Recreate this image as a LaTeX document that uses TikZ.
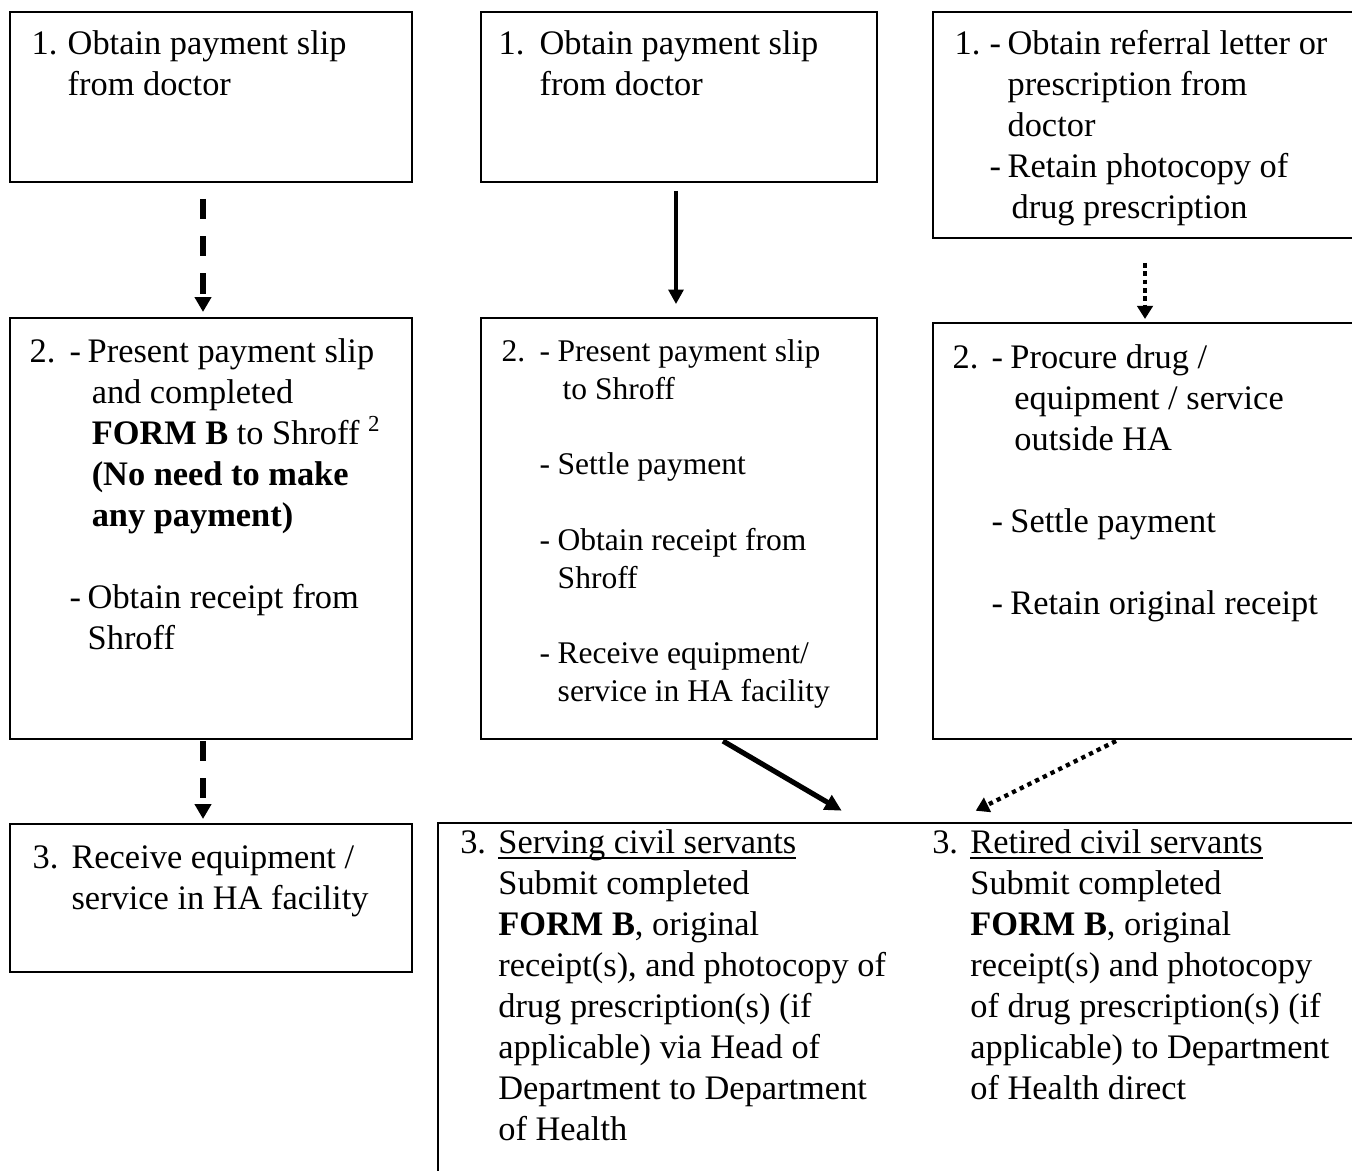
\documentclass[tikz,border=0pt]{standalone}
\usepackage{fontspec}
\setmainfont{Liberation Serif}
\usetikzlibrary{arrows.meta,calc,fit}

\begin{document}
\begin{tikzpicture}[x=0.349pt,y=-0.349pt,
    flowbox/.style={draw, line width=0.7pt, inner sep=0pt},
    steptext/.style={anchor=north west, inner sep=0pt, font=\fontsize{12}{14.3}\selectfont},
    dasharrow/.style={line width=1.9pt, dash pattern=on 7pt off 6pt, -{Triangle[length=5.2pt,width=5.6pt]}},
    solidarrow/.style={line width=1.1pt, -{Triangle[length=5pt,width=5.2pt]}},
    thickarrow/.style={line width=1.8pt, -{Triangle[length=5.8pt,width=5.6pt]}},
    dotarrow/.style={line width=1.6pt, dash pattern=on 1.6pt off 1.3pt, -{Triangle[length=4.6pt,width=5.4pt]}}]

	\path[use as bounding box, clip] (0,0) rectangle (1352,1170);

	% Boxes
	\node [flowbox, fit={(10,12) (412,182)}] (slipA) {};
	\node [flowbox, fit={(481,12) (877,182)}] (slipB) {};
	\node [flowbox, fit={(933,12) (1370,238)}] (referC) {};
	\node [flowbox, fit={(10,318) (412,739)}] (presentA) {};
	\node [flowbox, fit={(481,318) (877,739)}] (presentB) {};
	\node [flowbox, fit={(933,323) (1370,739)}] (procureC) {};
	\node [flowbox, fit={(10,824) (412,972)}] (receiveA) {};
	\node [flowbox, line width=0.9pt, fit={(438,823) (1370,1190)}] (submitD) {};

	% Texts
	\node [steptext] at ($(slipA.north west)+(22,14)$) {%
	    \begin{tabular}{@{}p{12.6pt}@{}l@{}}
	    1. & Obtain payment slip\\
	       & from doctor
	    \end{tabular}};
	\node [steptext] at ($(slipB.north west)+(18,14)$) {%
	    \begin{tabular}{@{}p{14.3pt}@{}l@{}}
	    1. & Obtain payment slip\\
	       & from doctor
	    \end{tabular}};
	\node [steptext] at ($(referC.north west)+(22,14)$) {%
	    \begin{tabular}{@{}p{12.2pt}@{}p{6.3pt}@{}l@{}}
	    1. & - & Obtain referral letter or\\
	       &   & prescription from\\
	       &   & doctor\\
	       & - & Retain photocopy of\\
	       &   & \hspace{1.4pt}drug prescription
	    \end{tabular}};
	\node [steptext] at ($(presentA.north west)+(20,16)$) {%
	    \begin{tabular}{@{}p{14pt}@{}p{6.3pt}@{}l@{}}
	    2. & - & Present payment slip\\
	       &   & \hspace{1.4pt}and completed\\
	       &   & \hspace{1.4pt}\textbf{FORM B} to Shroff \textsuperscript{2}\\
	       &   & \hspace{1.4pt}\textbf{(No need to make}\\
	       &   & \hspace{1.4pt}\textbf{any payment)}\\
	       &   & \\
	       & - & Obtain receipt from\\
	       &   & Shroff
	    \end{tabular}};
	\node [steptext, font=\fontsize{11}{13.15}\selectfont] at ($(presentB.north west)+(21,18)$) {%
	    \begin{tabular}{@{}p{13.3pt}@{}p{6.3pt}@{}l@{}}
	    2. & - & Present payment slip\\
	       &   & \hspace{1.7pt}to Shroff\\
	       &   & \\
	       & - & Settle payment\\
	       &   & \\
	       & - & Obtain receipt from\\
	       &   & Shroff\\
	       &   & \\
	       & - & Receive equipment/\\
	       &   & service in HA facility
	    \end{tabular}};
	\node [steptext] at ($(procureC.north west)+(20,17)$) {%
	    \begin{tabular}{@{}p{13.6pt}@{}p{6.6pt}@{}l@{}}
	    2. & - & Procure drug /\\
	       &   & \hspace{1.4pt}equipment / service\\
	       &   & \hspace{1.4pt}outside HA\\
	       &   & \\
	       & - & Settle payment\\
	       &   & \\
	       & - & Retain original receipt
	    \end{tabular}};
	\node [steptext] at ($(receiveA.north west)+(23,16)$) {%
	    \begin{tabular}{@{}p{13.6pt}@{}l@{}}
	    3. & Receive equipment /\\
	       & service in HA facility
	    \end{tabular}};
	\node [steptext] at ($(submitD.north west)+(23,3)$) {%
	    \begin{tabular}{@{}p{13.3pt}@{}l@{}}
	    3. & \underline{\smash{Serving civil servants}}\\
	       & Submit completed\\
	       & \textbf{FORM B}, original\\
	       & receipt(s), and photocopy of\\
	       & drug prescription(s) (if\\
	       & applicable) via Head of\\
	       & Department to Department\\
	       & of Health
	    \end{tabular}};
	\node [steptext] at ($(submitD.north west)+(495,3)$) {%
	    \begin{tabular}{@{}p{13.3pt}@{}l@{}}
	    3. & \underline{\smash{Retired civil servants}}\\
	       & Submit completed\\
	       & \textbf{FORM B}, original\\
	       & receipt(s) and photocopy\\
	       & of drug prescription(s) (if\\
	       & applicable) to Department\\
	       & of Health direct
	    \end{tabular}};

	% Arrows
	\draw [dasharrow] ($(slipA.south)+(-8,16)$) -- ($(presentA.north)+(-8,-5)$);
	\draw [dasharrow] ($(presentA.south)+(-8,1)$) -- ($(receiveA.north)+(-8,-4)$);
	\draw [solidarrow] ($(slipB.south)+(-3,8)$) -- ($(presentB.north)+(-3,-13)$);
	\draw [dotarrow] ($(referC.south west)+(213,24)$) -- ($(procureC.north west)+(213,-3)$);
	\draw [thickarrow] ($(presentB.south)+(44,1)$) -- ($(submitD.north west)+(405,-11)$);
	\draw [dotarrow, line width=1.5pt, dash pattern=on 1.5pt off 1.5pt] ($(procureC.south west)+(184,1)$) -- ($(submitD.north west)+(539,-11)$);

\end{tikzpicture}
\end{document}
